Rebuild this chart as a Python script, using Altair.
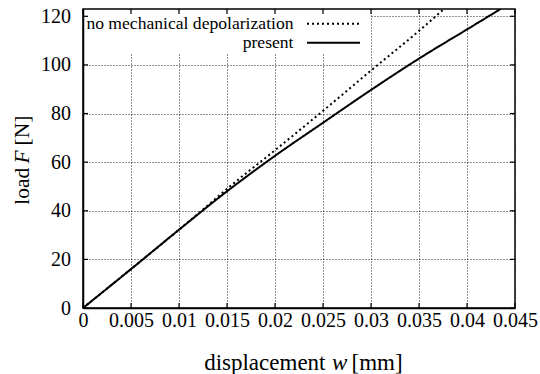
import altair as alt
import pandas as pd

# ---- data ----
x_ticks = [0, 0.005, 0.01, 0.015, 0.02, 0.025, 0.03, 0.035, 0.04, 0.045]
y_ticks = [0, 20, 40, 60, 80, 100, 120]

series_names = ["no mechanical depolarization", "present"]

nodepol_w = [0, 0.005, 0.01, 0.0125, 0.015, 0.02, 0.025, 0.03, 0.035, 0.0376]
nodepol_F = [0, 16.0, 32.2, 40.5, 49.0, 64.9, 81.1, 97.7, 114.0, 123.0]

present_w = [0, 0.005, 0.01, 0.015, 0.02, 0.025, 0.03, 0.035, 0.04, 0.0435]
present_F = [0, 16.0, 32.2, 48.0, 62.6, 76.2, 89.7, 102.6, 114.6, 123.0]

x_domain = [0, 0.045]
y_domain = [0, 123]

# axis titles: (text, italic?) pieces
x_title = [("displacement", False), ("w", True), ("[mm]", False)]
y_title = [("load", False), ("F", True), ("[N]", False)]

# ---- layout ----
W, H = 432, 299
FONT = "Liberation Serif"
dashes = [[2, 3], [1, 0]]

rows = []
for name, ws, fs in [(series_names[0], nodepol_w, nodepol_F),
                     (series_names[1], present_w, present_F)]:
    for w, f in zip(ws, fs):
        rows.append({"series": name, "w": w, "F": f})
df = pd.DataFrame(rows)

xscale = alt.Scale(domain=x_domain, nice=False, zero=False)
yscale = alt.Scale(domain=y_domain, nice=False, zero=False)

lines = alt.Chart(df).mark_line(color="black", strokeWidth=2, clip=True,
                                interpolate="monotone").encode(
    x=alt.X("w:Q", scale=xscale,
            axis=alt.Axis(values=x_ticks, format="~g", title=None,
                          grid=True, ticks=False, tickSize=0, labelPadding=2,
                          labelOverlap=False, labelFlush=False,
                          labelFont=FONT, labelFontSize=20, labelColor="black")),
    y=alt.Y("F:Q", scale=yscale,
            axis=alt.Axis(values=y_ticks, title=None,
                          grid=True, ticks=False, tickSize=0, labelPadding=12.5,
                          labelOverlap=False, labelFlush=False,
                          labelFont=FONT, labelFontSize=20, labelColor="black")),
    strokeDash=alt.StrokeDash("series:N",
                              scale=alt.Scale(domain=series_names, range=dashes),
                              legend=None),
    detail="series:N",
)

# legend box (white, hides grid)
legend_box = alt.Chart(pd.DataFrame({"label": [series_names[0]]})).mark_rect(
    color="white").encode(
    x=alt.value(5), x2=alt.value(287), y=alt.value(1.5), y2=alt.value(44))

legend_layers = [legend_box]
for i, name in enumerate(series_names):
    d = pd.DataFrame({"label": [name]})
    legend_layers.append(
        alt.Chart(d).mark_text(align="right", baseline="alphabetic", font=FONT,
                               fontSize=17.6, color="black").encode(
            text="label:N", x=alt.value(210.5), y=alt.value(20 + 19 * i)))
    legend_layers.append(
        alt.Chart(d).mark_rule(color="black", strokeWidth=2,
                               strokeDash=dashes[i]).encode(
            x=alt.value(224), x2=alt.value(277), y=alt.value(14.7 + 19 * i)))

# axis titles as text pieces (so the symbol can be italic)
title_layers = []
x_pos = [(242.5, "right"), (249.0, "left"), (268.5, "left")]
for (txt, ital), (px, al) in zip(x_title, x_pos):
    title_layers.append(
        alt.Chart(pd.DataFrame({"t": [txt]})).mark_text(
            align=al, baseline="alphabetic", font=FONT, fontSize=23,
            fontStyle="italic" if ital else "normal", color="black").encode(
            text="t:N", x=alt.value(px), y=alt.value(360.5)))
y_pos = [195.7, 154.5, 136.5]
for (txt, ital), py in zip(y_title, y_pos):
    title_layers.append(
        alt.Chart(pd.DataFrame({"t": [txt]})).mark_text(
            align="left", baseline="alphabetic", font=FONT, fontSize=21.5, angle=270,
            fontStyle="italic" if ital else "normal", color="black").encode(
            text="t:N", x=alt.value(-54.4), y=alt.value(py)))

# inward gnuplot-style ticks on all four sides
xt = pd.DataFrame({"w": x_ticks})
yt = pd.DataFrame({"F": y_ticks})
tick_layers = [
    alt.Chart(xt).mark_rule(color="black", strokeWidth=1.2).encode(
        x="w:Q", y=alt.value(H), y2=alt.value(H - 5)),
    alt.Chart(xt).mark_rule(color="black", strokeWidth=1.2).encode(
        x="w:Q", y=alt.value(0), y2=alt.value(5)),
    alt.Chart(yt).mark_rule(color="black", strokeWidth=1.2).encode(
        y="F:Q", x=alt.value(0), x2=alt.value(5)),
    alt.Chart(yt).mark_rule(color="black", strokeWidth=1.2).encode(
        y="F:Q", x=alt.value(W - 5), x2=alt.value(W)),
]

chart = alt.layer(lines, *legend_layers, *tick_layers, *title_layers).properties(
    width=W, height=H,
    padding={"left": 83, "top": 9, "right": 25, "bottom": 66},
    autosize=alt.AutoSizeParams(type="none"),
    background="white",
).configure_view(
    stroke="black", strokeWidth=1.5,
).configure_axis(
    labelFont=FONT, labelFontSize=20, labelColor="black",
    domainColor="black", domainWidth=1.5,
    gridColor="#222222", gridDash=[1, 2], gridWidth=1, gridOpacity=1,
)

chart.save("out.html", embed_options={"renderer": "svg", "actions": False})
